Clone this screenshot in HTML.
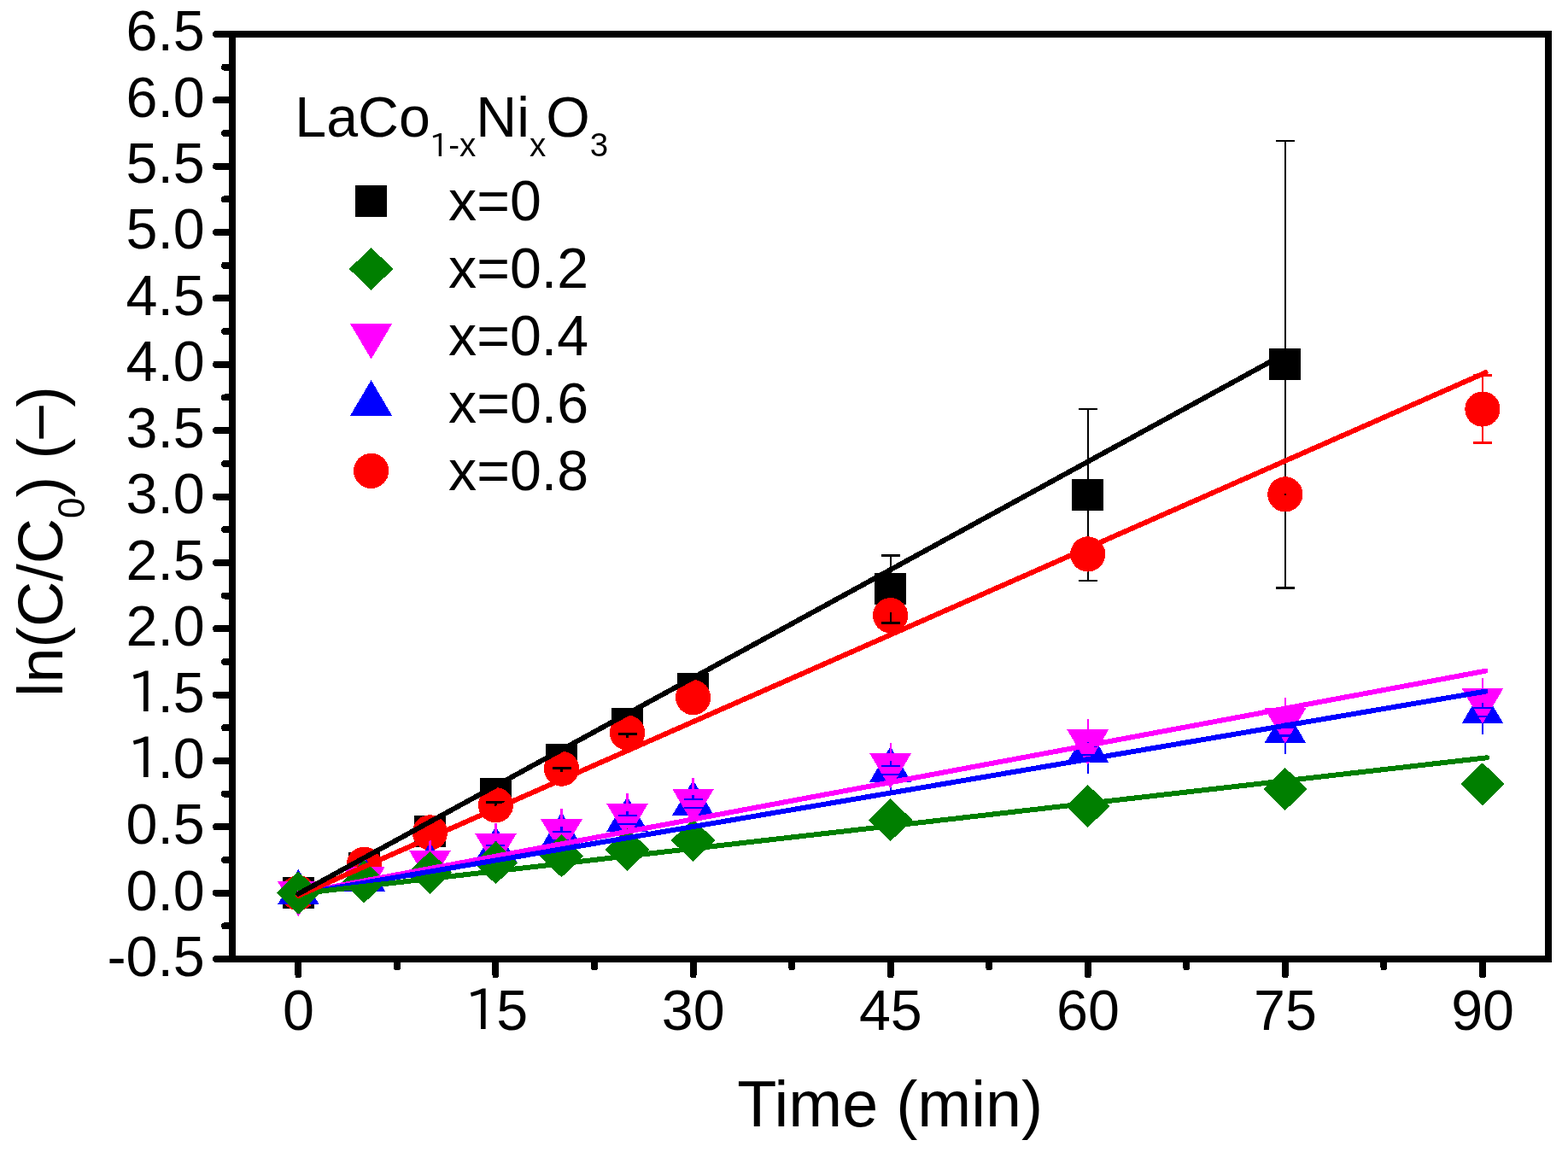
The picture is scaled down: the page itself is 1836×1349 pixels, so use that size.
<!DOCTYPE html><html><head><meta charset="utf-8"><title>ln(C/C0) vs Time</title>
<style>html,body{margin:0;padding:0;background:#fff;}svg{display:block;}</style></head><body>
<svg width="1836" height="1349" viewBox="0 0 1836 1349" shape-rendering="crispEdges">
<rect x="0" y="0" width="1836" height="1349" fill="#fff"/>
<rect x="331.00" y="1027.20" width="36.80" height="36.80" fill="#000000"/>
<rect x="408.03" y="997.81" width="36.80" height="36.80" fill="#000000"/>
<rect x="485.06" y="954.95" width="36.80" height="36.80" fill="#000000"/>
<rect x="562.09" y="910.86" width="36.80" height="36.80" fill="#000000"/>
<rect x="639.12" y="870.94" width="36.80" height="36.80" fill="#000000"/>
<rect x="716.15" y="829.02" width="36.80" height="36.80" fill="#000000"/>
<rect x="793.18" y="788.02" width="36.80" height="36.80" fill="#000000"/>
<rect x="1024.27" y="671.37" width="36.80" height="36.80" fill="#000000"/>
<rect x="1255.36" y="561.06" width="36.80" height="36.80" fill="#000000"/>
<rect x="1486.45" y="408.36" width="36.80" height="36.80" fill="#000000"/>
<line x1="1042.67" y1="650.16" x2="1042.67" y2="729.37" stroke="#000000" stroke-width="2.2"/>
<line x1="1031.67" y1="650.16" x2="1053.67" y2="650.16" stroke="#000000" stroke-width="2.8"/>
<line x1="1031.67" y1="729.37" x2="1053.67" y2="729.37" stroke="#000000" stroke-width="2.8"/>
<line x1="1273.76" y1="478.90" x2="1273.76" y2="680.02" stroke="#000000" stroke-width="2.2"/>
<line x1="1262.76" y1="478.90" x2="1284.76" y2="478.90" stroke="#000000" stroke-width="2.8"/>
<line x1="1262.76" y1="680.02" x2="1284.76" y2="680.02" stroke="#000000" stroke-width="2.8"/>
<line x1="1504.85" y1="164.99" x2="1504.85" y2="688.53" stroke="#000000" stroke-width="2.2"/>
<line x1="1493.85" y1="164.99" x2="1515.85" y2="164.99" stroke="#000000" stroke-width="2.8"/>
<line x1="1493.85" y1="688.53" x2="1515.85" y2="688.53" stroke="#000000" stroke-width="2.8"/>
<circle cx="349.40" cy="1045.60" r="20.6" fill="#ff0000"/>
<circle cx="426.43" cy="1012.34" r="20.6" fill="#ff0000"/>
<circle cx="503.46" cy="974.90" r="20.6" fill="#ff0000"/>
<circle cx="580.49" cy="942.72" r="20.6" fill="#ff0000"/>
<circle cx="657.52" cy="900.17" r="20.6" fill="#ff0000"/>
<circle cx="734.55" cy="858.09" r="20.6" fill="#ff0000"/>
<circle cx="811.58" cy="816.63" r="20.6" fill="#ff0000"/>
<circle cx="1042.67" cy="720.71" r="20.6" fill="#ff0000"/>
<circle cx="1273.76" cy="648.92" r="20.6" fill="#ff0000"/>
<circle cx="1504.85" cy="578.84" r="20.6" fill="#ff0000"/>
<circle cx="1735.94" cy="479.05" r="20.6" fill="#ff0000"/>
<line x1="1735.94" y1="439.45" x2="1735.94" y2="518.66" stroke="#ff0000" stroke-width="2.2"/>
<line x1="1724.94" y1="439.45" x2="1746.94" y2="439.45" stroke="#ff0000" stroke-width="2.8"/>
<line x1="1724.94" y1="518.66" x2="1746.94" y2="518.66" stroke="#ff0000" stroke-width="2.8"/>
<line x1="569.49" y1="939.22" x2="591.49" y2="939.22" stroke="#000" stroke-width="2.8"/>
<line x1="580.49" y1="939.22" x2="580.49" y2="943.72" stroke="#000" stroke-width="2.6"/>
<line x1="646.52" y1="899.67" x2="668.52" y2="899.67" stroke="#000" stroke-width="2.8"/>
<line x1="657.52" y1="899.67" x2="657.52" y2="904.17" stroke="#000" stroke-width="2.6"/>
<line x1="723.55" y1="859.49" x2="745.55" y2="859.49" stroke="#000" stroke-width="2.8"/>
<line x1="734.55" y1="859.49" x2="734.55" y2="863.99" stroke="#000" stroke-width="2.6"/>
<line x1="1042.67" y1="717" x2="1042.67" y2="729.3" stroke="#000" stroke-width="2.2"/>
<line x1="1031.67" y1="729.3" x2="1053.67" y2="729.3" stroke="#000" stroke-width="2.8"/>
<rect x="1503.65" y="577.64" width="2.4" height="2.4" fill="#000"/>
<polygon points="349.40,1017.93 373.90,1059.43 324.90,1059.43" fill="#0000ff"/>
<polygon points="426.43,1002.00 450.93,1043.50 401.93,1043.50" fill="#0000ff"/>
<polygon points="503.46,986.22 527.96,1027.72 478.96,1027.72" fill="#0000ff"/>
<polygon points="580.49,967.50 604.99,1009.00 555.99,1009.00" fill="#0000ff"/>
<polygon points="657.52,950.94 682.02,992.44 633.02,992.44" fill="#0000ff"/>
<polygon points="734.55,932.53 759.05,974.03 710.05,974.03" fill="#0000ff"/>
<polygon points="811.58,913.35 836.08,954.85 787.08,954.85" fill="#0000ff"/>
<polygon points="1042.67,874.05 1067.17,915.55 1018.17,915.55" fill="#0000ff"/>
<polygon points="1273.76,851.47 1298.26,892.97 1249.26,892.97" fill="#0000ff"/>
<polygon points="1504.85,828.88 1529.35,870.38 1480.35,870.38" fill="#0000ff"/>
<polygon points="1735.94,805.98 1760.44,847.48 1711.44,847.48" fill="#0000ff"/>
<line x1="426.43" y1="1003.16" x2="426.43" y2="1056.16" stroke="#0000ff" stroke-width="2.2"/>
<line x1="503.46" y1="987.38" x2="503.46" y2="1040.38" stroke="#0000ff" stroke-width="2.2"/>
<line x1="580.49" y1="968.66" x2="580.49" y2="1021.66" stroke="#0000ff" stroke-width="2.2"/>
<line x1="657.52" y1="952.11" x2="657.52" y2="1005.11" stroke="#0000ff" stroke-width="2.2"/>
<line x1="734.55" y1="933.70" x2="734.55" y2="986.70" stroke="#0000ff" stroke-width="2.2"/>
<line x1="811.58" y1="914.52" x2="811.58" y2="967.52" stroke="#0000ff" stroke-width="2.2"/>
<line x1="1042.67" y1="875.22" x2="1042.67" y2="928.22" stroke="#0000ff" stroke-width="2.2"/>
<line x1="1273.76" y1="852.63" x2="1273.76" y2="905.63" stroke="#0000ff" stroke-width="2.2"/>
<line x1="1504.85" y1="830.04" x2="1504.85" y2="883.04" stroke="#0000ff" stroke-width="2.2"/>
<line x1="1735.94" y1="807.15" x2="1735.94" y2="860.15" stroke="#0000ff" stroke-width="2.2"/>
<line x1="426.43" y1="1002.58" x2="426.43" y2="1054.58" stroke="#ff00ff" stroke-width="2.2"/>
<line x1="503.46" y1="983.71" x2="503.46" y2="1035.71" stroke="#ff00ff" stroke-width="2.2"/>
<line x1="580.49" y1="963.59" x2="580.49" y2="1015.59" stroke="#ff00ff" stroke-width="2.2"/>
<line x1="657.52" y1="946.89" x2="657.52" y2="998.89" stroke="#ff00ff" stroke-width="2.2"/>
<line x1="734.55" y1="928.63" x2="734.55" y2="980.63" stroke="#ff00ff" stroke-width="2.2"/>
<line x1="811.58" y1="911.46" x2="811.58" y2="963.46" stroke="#ff00ff" stroke-width="2.2"/>
<line x1="1042.67" y1="869.84" x2="1042.67" y2="921.84" stroke="#ff00ff" stroke-width="2.2"/>
<line x1="1273.76" y1="841.99" x2="1273.76" y2="893.99" stroke="#ff00ff" stroke-width="2.2"/>
<line x1="1504.85" y1="816.93" x2="1504.85" y2="868.93" stroke="#ff00ff" stroke-width="2.2"/>
<line x1="1735.94" y1="793.72" x2="1735.94" y2="845.72" stroke="#ff00ff" stroke-width="2.2"/>
<polygon points="324.90,1031.77 373.90,1031.77 349.40,1073.27" fill="#ff00ff"/>
<polygon points="401.93,1014.75 450.93,1014.75 426.43,1056.25" fill="#ff00ff"/>
<polygon points="478.96,995.87 527.96,995.87 503.46,1037.37" fill="#ff00ff"/>
<polygon points="555.99,975.76 604.99,975.76 580.49,1017.26" fill="#ff00ff"/>
<polygon points="633.02,959.05 682.02,959.05 657.52,1000.55" fill="#ff00ff"/>
<polygon points="710.05,940.80 759.05,940.80 734.55,982.30" fill="#ff00ff"/>
<polygon points="787.08,923.62 836.08,923.62 811.58,965.12" fill="#ff00ff"/>
<polygon points="1018.17,882.01 1067.17,882.01 1042.67,923.51" fill="#ff00ff"/>
<polygon points="1249.26,854.16 1298.26,854.16 1273.76,895.66" fill="#ff00ff"/>
<polygon points="1480.35,829.10 1529.35,829.10 1504.85,870.60" fill="#ff00ff"/>
<polygon points="1711.44,805.89 1760.44,805.89 1735.94,847.39" fill="#ff00ff"/>
<line x1="415.43" y1="1024.66" x2="437.43" y2="1024.66" stroke="#0000ff" stroke-width="2.2"/>
<line x1="415.43" y1="1034.66" x2="437.43" y2="1034.66" stroke="#0000ff" stroke-width="2.2"/>
<line x1="426.43" y1="1024.66" x2="426.43" y2="1019.16" stroke="#0000ff" stroke-width="2.2"/>
<line x1="492.46" y1="1008.88" x2="514.46" y2="1008.88" stroke="#0000ff" stroke-width="2.2"/>
<line x1="492.46" y1="1018.88" x2="514.46" y2="1018.88" stroke="#0000ff" stroke-width="2.2"/>
<line x1="503.46" y1="1008.88" x2="503.46" y2="1003.38" stroke="#0000ff" stroke-width="2.2"/>
<line x1="569.49" y1="990.16" x2="591.49" y2="990.16" stroke="#0000ff" stroke-width="2.2"/>
<line x1="569.49" y1="1000.16" x2="591.49" y2="1000.16" stroke="#0000ff" stroke-width="2.2"/>
<line x1="580.49" y1="990.16" x2="580.49" y2="984.66" stroke="#0000ff" stroke-width="2.2"/>
<line x1="646.52" y1="973.61" x2="668.52" y2="973.61" stroke="#0000ff" stroke-width="2.2"/>
<line x1="646.52" y1="983.61" x2="668.52" y2="983.61" stroke="#0000ff" stroke-width="2.2"/>
<line x1="657.52" y1="973.61" x2="657.52" y2="968.11" stroke="#0000ff" stroke-width="2.2"/>
<line x1="723.55" y1="955.20" x2="745.55" y2="955.20" stroke="#0000ff" stroke-width="2.2"/>
<line x1="723.55" y1="965.20" x2="745.55" y2="965.20" stroke="#0000ff" stroke-width="2.2"/>
<line x1="734.55" y1="955.20" x2="734.55" y2="949.70" stroke="#0000ff" stroke-width="2.2"/>
<line x1="800.58" y1="936.02" x2="822.58" y2="936.02" stroke="#0000ff" stroke-width="2.2"/>
<line x1="800.58" y1="946.02" x2="822.58" y2="946.02" stroke="#0000ff" stroke-width="2.2"/>
<line x1="811.58" y1="936.02" x2="811.58" y2="930.52" stroke="#0000ff" stroke-width="2.2"/>
<line x1="1031.67" y1="896.72" x2="1053.67" y2="896.72" stroke="#0000ff" stroke-width="2.2"/>
<line x1="1031.67" y1="906.72" x2="1053.67" y2="906.72" stroke="#0000ff" stroke-width="2.2"/>
<line x1="1042.67" y1="896.72" x2="1042.67" y2="891.22" stroke="#0000ff" stroke-width="2.2"/>
<line x1="1262.76" y1="874.13" x2="1284.76" y2="874.13" stroke="#0000ff" stroke-width="2.2"/>
<line x1="1262.76" y1="884.13" x2="1284.76" y2="884.13" stroke="#0000ff" stroke-width="2.2"/>
<line x1="1273.76" y1="874.13" x2="1273.76" y2="868.63" stroke="#0000ff" stroke-width="2.2"/>
<line x1="1493.85" y1="851.54" x2="1515.85" y2="851.54" stroke="#0000ff" stroke-width="2.2"/>
<line x1="1493.85" y1="861.54" x2="1515.85" y2="861.54" stroke="#0000ff" stroke-width="2.2"/>
<line x1="1504.85" y1="851.54" x2="1504.85" y2="846.04" stroke="#0000ff" stroke-width="2.2"/>
<line x1="1724.94" y1="828.65" x2="1746.94" y2="828.65" stroke="#0000ff" stroke-width="2.2"/>
<line x1="1724.94" y1="838.65" x2="1746.94" y2="838.65" stroke="#0000ff" stroke-width="2.2"/>
<line x1="1735.94" y1="828.65" x2="1735.94" y2="823.15" stroke="#0000ff" stroke-width="2.2"/>
<polygon points="349.40,1020.60 375.20,1045.60 349.40,1070.60 323.60,1045.60" fill="#007f00"/>
<polygon points="426.43,1007.45 452.23,1032.45 426.43,1057.45 400.63,1032.45" fill="#007f00"/>
<polygon points="503.46,996.77 529.26,1021.77 503.46,1046.77 477.66,1021.77" fill="#007f00"/>
<polygon points="580.49,985.33 606.29,1010.33 580.49,1035.33 554.69,1010.33" fill="#007f00"/>
<polygon points="657.52,977.44 683.32,1002.44 657.52,1027.44 631.72,1002.44" fill="#007f00"/>
<polygon points="734.55,970.01 760.35,995.01 734.55,1020.01 708.75,995.01" fill="#007f00"/>
<polygon points="811.58,959.03 837.38,984.03 811.58,1009.03 785.78,984.03" fill="#007f00"/>
<polygon points="1042.67,935.20 1068.47,960.20 1042.67,985.20 1016.87,960.20" fill="#007f00"/>
<polygon points="1273.76,918.96 1299.56,943.96 1273.76,968.96 1247.96,943.96" fill="#007f00"/>
<polygon points="1504.85,899.00 1530.65,924.00 1504.85,949.00 1479.05,924.00" fill="#007f00"/>
<polygon points="1735.94,893.12 1761.74,918.12 1735.94,943.12 1710.14,918.12" fill="#007f00"/>
<line x1="349.40" y1="1045.90" x2="1739.50" y2="785.67" stroke="#ff00ff" stroke-width="6" stroke-linecap="round"/>
<line x1="349.40" y1="1046.90" x2="1739.50" y2="809.61" stroke="#0000ff" stroke-width="6" stroke-linecap="round"/>
<line x1="349.40" y1="1046.60" x2="1741.00" y2="887.26" stroke="#007f00" stroke-width="6" stroke-linecap="round"/>
<line x1="349.40" y1="1048.80" x2="1739.50" y2="436.32" stroke="#ff0000" stroke-width="6" stroke-linecap="round"/>
<line x1="349.40" y1="1046.70" x2="1504.85" y2="414.09" stroke="#000000" stroke-width="6" stroke-linecap="round"/>
<path d="M272,40 H1813 V1123 H272 Z" fill="none" stroke="#000" stroke-width="8" stroke-linejoin="miter"/>
<line x1="272" y1="40.00" x2="253" y2="40.00" stroke="#000" stroke-width="8" stroke-linecap="round"/>
<line x1="272" y1="117.36" x2="253" y2="117.36" stroke="#000" stroke-width="8" stroke-linecap="round"/>
<line x1="272" y1="194.71" x2="253" y2="194.71" stroke="#000" stroke-width="8" stroke-linecap="round"/>
<line x1="272" y1="272.07" x2="253" y2="272.07" stroke="#000" stroke-width="8" stroke-linecap="round"/>
<line x1="272" y1="349.43" x2="253" y2="349.43" stroke="#000" stroke-width="8" stroke-linecap="round"/>
<line x1="272" y1="426.79" x2="253" y2="426.79" stroke="#000" stroke-width="8" stroke-linecap="round"/>
<line x1="272" y1="504.14" x2="253" y2="504.14" stroke="#000" stroke-width="8" stroke-linecap="round"/>
<line x1="272" y1="581.50" x2="253" y2="581.50" stroke="#000" stroke-width="8" stroke-linecap="round"/>
<line x1="272" y1="658.86" x2="253" y2="658.86" stroke="#000" stroke-width="8" stroke-linecap="round"/>
<line x1="272" y1="736.21" x2="253" y2="736.21" stroke="#000" stroke-width="8" stroke-linecap="round"/>
<line x1="272" y1="813.57" x2="253" y2="813.57" stroke="#000" stroke-width="8" stroke-linecap="round"/>
<line x1="272" y1="890.93" x2="253" y2="890.93" stroke="#000" stroke-width="8" stroke-linecap="round"/>
<line x1="272" y1="968.29" x2="253" y2="968.29" stroke="#000" stroke-width="8" stroke-linecap="round"/>
<line x1="272" y1="1045.64" x2="253" y2="1045.64" stroke="#000" stroke-width="8" stroke-linecap="round"/>
<line x1="272" y1="1123.00" x2="253" y2="1123.00" stroke="#000" stroke-width="8" stroke-linecap="round"/>
<line x1="272" y1="78.68" x2="263" y2="78.68" stroke="#000" stroke-width="8" stroke-linecap="round"/>
<line x1="272" y1="156.04" x2="263" y2="156.04" stroke="#000" stroke-width="8" stroke-linecap="round"/>
<line x1="272" y1="233.39" x2="263" y2="233.39" stroke="#000" stroke-width="8" stroke-linecap="round"/>
<line x1="272" y1="310.75" x2="263" y2="310.75" stroke="#000" stroke-width="8" stroke-linecap="round"/>
<line x1="272" y1="388.11" x2="263" y2="388.11" stroke="#000" stroke-width="8" stroke-linecap="round"/>
<line x1="272" y1="465.46" x2="263" y2="465.46" stroke="#000" stroke-width="8" stroke-linecap="round"/>
<line x1="272" y1="542.82" x2="263" y2="542.82" stroke="#000" stroke-width="8" stroke-linecap="round"/>
<line x1="272" y1="620.18" x2="263" y2="620.18" stroke="#000" stroke-width="8" stroke-linecap="round"/>
<line x1="272" y1="697.54" x2="263" y2="697.54" stroke="#000" stroke-width="8" stroke-linecap="round"/>
<line x1="272" y1="774.89" x2="263" y2="774.89" stroke="#000" stroke-width="8" stroke-linecap="round"/>
<line x1="272" y1="852.25" x2="263" y2="852.25" stroke="#000" stroke-width="8" stroke-linecap="round"/>
<line x1="272" y1="929.61" x2="263" y2="929.61" stroke="#000" stroke-width="8" stroke-linecap="round"/>
<line x1="272" y1="1006.96" x2="263" y2="1006.96" stroke="#000" stroke-width="8" stroke-linecap="round"/>
<line x1="272" y1="1084.32" x2="263" y2="1084.32" stroke="#000" stroke-width="8" stroke-linecap="round"/>
<line x1="349.40" y1="1123" x2="349.40" y2="1141.5" stroke="#000" stroke-width="8" stroke-linecap="round"/>
<line x1="580.49" y1="1123" x2="580.49" y2="1141.5" stroke="#000" stroke-width="8" stroke-linecap="round"/>
<line x1="811.58" y1="1123" x2="811.58" y2="1141.5" stroke="#000" stroke-width="8" stroke-linecap="round"/>
<line x1="1042.67" y1="1123" x2="1042.67" y2="1141.5" stroke="#000" stroke-width="8" stroke-linecap="round"/>
<line x1="1273.76" y1="1123" x2="1273.76" y2="1141.5" stroke="#000" stroke-width="8" stroke-linecap="round"/>
<line x1="1504.85" y1="1123" x2="1504.85" y2="1141.5" stroke="#000" stroke-width="8" stroke-linecap="round"/>
<line x1="1735.94" y1="1123" x2="1735.94" y2="1141.5" stroke="#000" stroke-width="8" stroke-linecap="round"/>
<line x1="464.94" y1="1123" x2="464.94" y2="1132.5" stroke="#000" stroke-width="8" stroke-linecap="round"/>
<line x1="696.03" y1="1123" x2="696.03" y2="1132.5" stroke="#000" stroke-width="8" stroke-linecap="round"/>
<line x1="927.12" y1="1123" x2="927.12" y2="1132.5" stroke="#000" stroke-width="8" stroke-linecap="round"/>
<line x1="1158.22" y1="1123" x2="1158.22" y2="1132.5" stroke="#000" stroke-width="8" stroke-linecap="round"/>
<line x1="1389.30" y1="1123" x2="1389.30" y2="1132.5" stroke="#000" stroke-width="8" stroke-linecap="round"/>
<line x1="1620.39" y1="1123" x2="1620.39" y2="1132.5" stroke="#000" stroke-width="8" stroke-linecap="round"/>
<text x="239.8" y="59.20" text-anchor="end" font-family='"Liberation Sans", Arial, sans-serif' font-size="66.4">6.5</text>
<text x="239.8" y="136.63" text-anchor="end" font-family='"Liberation Sans", Arial, sans-serif' font-size="66.4">6.0</text>
<text x="239.8" y="214.06" text-anchor="end" font-family='"Liberation Sans", Arial, sans-serif' font-size="66.4">5.5</text>
<text x="239.8" y="291.49" text-anchor="end" font-family='"Liberation Sans", Arial, sans-serif' font-size="66.4">5.0</text>
<text x="239.8" y="368.92" text-anchor="end" font-family='"Liberation Sans", Arial, sans-serif' font-size="66.4">4.5</text>
<text x="239.8" y="446.35" text-anchor="end" font-family='"Liberation Sans", Arial, sans-serif' font-size="66.4">4.0</text>
<text x="239.8" y="523.78" text-anchor="end" font-family='"Liberation Sans", Arial, sans-serif' font-size="66.4">3.5</text>
<text x="239.8" y="601.21" text-anchor="end" font-family='"Liberation Sans", Arial, sans-serif' font-size="66.4">3.0</text>
<text x="239.8" y="678.64" text-anchor="end" font-family='"Liberation Sans", Arial, sans-serif' font-size="66.4">2.5</text>
<text x="239.8" y="756.07" text-anchor="end" font-family='"Liberation Sans", Arial, sans-serif' font-size="66.4">2.0</text>
<text x="149.0" y="833.50" font-family='"Liberation Sans", Arial, sans-serif' font-size="66.4"><tspan x="149.0" font-family='"IPAPGothic", "IPAGothic", "Liberation Sans", sans-serif' font-size="64">1</tspan><tspan x="184.4">.5</tspan></text>
<text x="149.0" y="910.93" font-family='"Liberation Sans", Arial, sans-serif' font-size="66.4"><tspan x="149.0" font-family='"IPAPGothic", "IPAGothic", "Liberation Sans", sans-serif' font-size="64">1</tspan><tspan x="184.4">.0</tspan></text>
<text x="239.8" y="988.36" text-anchor="end" font-family='"Liberation Sans", Arial, sans-serif' font-size="66.4">0.5</text>
<text x="239.8" y="1065.79" text-anchor="end" font-family='"Liberation Sans", Arial, sans-serif' font-size="66.4">0.0</text>
<text x="239.8" y="1143.22" text-anchor="end" font-family='"Liberation Sans", Arial, sans-serif' font-size="66.4">-0.5</text>
<text x="349.55" y="1206.25" text-anchor="middle" font-family='"Liberation Sans", Arial, sans-serif' font-size="66.4">0</text>
<text x="544.0" y="1206.25" font-family='"Liberation Sans", Arial, sans-serif' font-size="66.4"><tspan font-family='"IPAPGothic", "IPAGothic", "Liberation Sans", sans-serif' font-size="64">1</tspan><tspan x="581.2">5</tspan></text>
<text x="811.73" y="1206.25" text-anchor="middle" font-family='"Liberation Sans", Arial, sans-serif' font-size="66.4">30</text>
<text x="1042.82" y="1206.25" text-anchor="middle" font-family='"Liberation Sans", Arial, sans-serif' font-size="66.4">45</text>
<text x="1273.91" y="1206.25" text-anchor="middle" font-family='"Liberation Sans", Arial, sans-serif' font-size="66.4">60</text>
<text x="1505.00" y="1206.25" text-anchor="middle" font-family='"Liberation Sans", Arial, sans-serif' font-size="66.4">75</text>
<text x="1736.09" y="1206.25" text-anchor="middle" font-family='"Liberation Sans", Arial, sans-serif' font-size="66.4">90</text>
<text x="863.2" y="1318.8" font-family='"Liberation Sans", Arial, sans-serif' font-size="75.5">Time (min)</text>
<text transform="translate(73.1,815.9) rotate(-90)" x="0" y="0" font-family='"Liberation Sans", Arial, sans-serif' font-size="73.75">ln(C/C<tspan font-size="44" dy="25.5">0</tspan><tspan dy="-25.5">) (</tspan><tspan x="298.15" textLength="46.1" lengthAdjust="spacingAndGlyphs">−</tspan><tspan x="339.1">)</tspan></text>
<text x="345.3" y="159.9" font-family='"Liberation Sans", Arial, sans-serif' font-size="66.3">LaCo<tspan x="502.7" font-family='"IPAPGothic", "IPAGothic", "Liberation Sans", sans-serif' font-size="37" dy="22.8">1</tspan><tspan x="525.2" font-size="38.5">-x</tspan><tspan dy="-22.8">Ni</tspan><tspan font-size="38.5" dy="22.8">x</tspan><tspan dy="-22.8">O</tspan><tspan font-size="38.5" dy="22.8">3</tspan></text>
<rect x="416.20" y="217.05" width="36.80" height="36.80" fill="#000000"/>
<polygon points="434.60,289.95 460.40,314.95 434.60,339.95 408.80,314.95" fill="#007f00"/>
<polygon points="410.10,379.12 459.10,379.12 434.60,420.62" fill="#ff00ff"/>
<polygon points="434.60,445.18 459.10,486.68 410.10,486.68" fill="#0000ff"/>
<circle cx="434.60" cy="551.40" r="20.6" fill="#ff0000"/>
<text x="525.1" y="257.90" font-family='"Liberation Sans", Arial, sans-serif' font-size="66.3">x=0</text>
<text x="525.1" y="336.85" font-family='"Liberation Sans", Arial, sans-serif' font-size="66.3">x=0.2</text>
<text x="525.1" y="415.80" font-family='"Liberation Sans", Arial, sans-serif' font-size="66.3">x=0.4</text>
<text x="525.1" y="494.75" font-family='"Liberation Sans", Arial, sans-serif' font-size="66.3">x=0.6</text>
<text x="525.1" y="573.70" font-family='"Liberation Sans", Arial, sans-serif' font-size="66.3">x=0.8</text>
</svg></body></html>
